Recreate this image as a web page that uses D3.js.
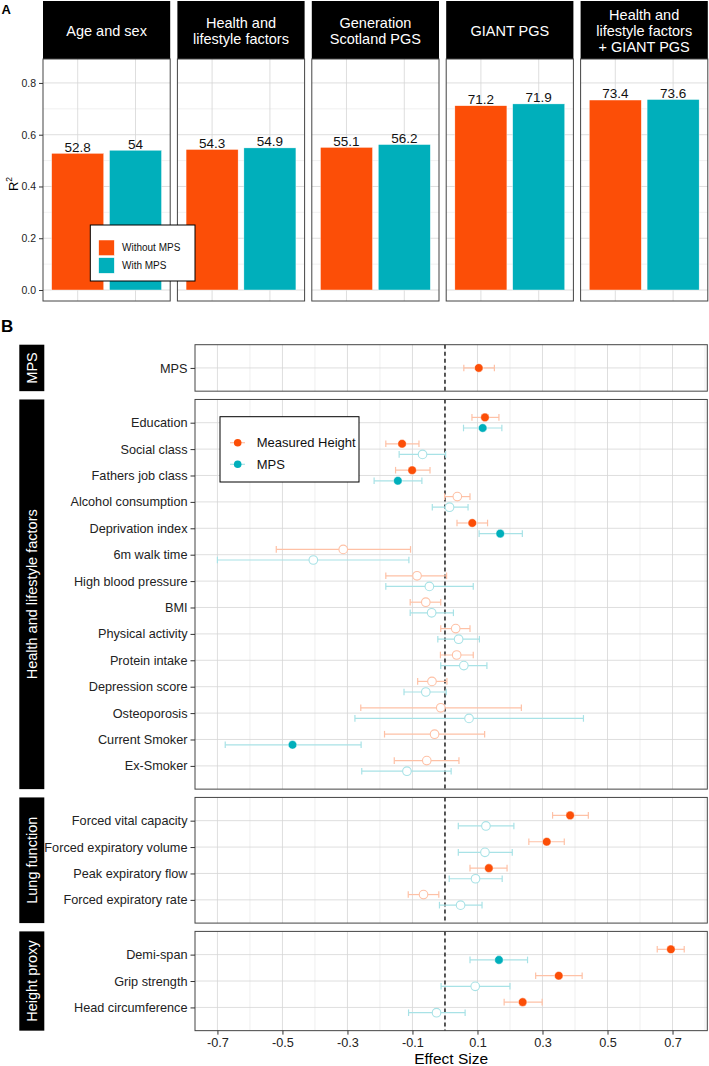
<!DOCTYPE html>
<html>
<head>
<meta charset="utf-8">
<script src="https://cdn.jsdelivr.net/npm/d3@7"></script>
<style>
  html, body { margin: 0; padding: 0; background: #fff; }
  svg { display: block; font-family: "Liberation Sans", Arial, Helvetica, sans-serif; }
</style>
</head>
<body>
<svg id="chart" width="709" height="1066"></svg>
<script>
// ---------------- Panel A data ----------------
const modelNames = [["Age and sex"], ["Health and", "lifestyle factors"], ["Generation", "Scotland PGS"], ["GIANT PGS"], ["Health and", "lifestyle factors", "+ GIANT PGS"]];
const barGroups = ["Without MPS", "With MPS"];
const withoutMPS = [52.8, 54.3, 55.1, 71.2, 73.4];
const withMPS = [54, 54.9, 56.2, 71.9, 73.6];
const yTicksA = [0, 0.2, 0.4, 0.6, 0.8];
const yMinorA = [0.1, 0.3, 0.5, 0.7];

// ---------------- Panel B data ----------------
const groupNames = ["MPS", "Health and lifestyle factors", "Lung function", "Height proxy"];
const traits = ["MPS", "Education", "Social class", "Fathers job class", "Alcohol consumption", "Deprivation index", "6m walk time", "High blood pressure", "BMI", "Physical activity", "Protein intake", "Depression score", "Osteoporosis", "Current Smoker", "Ex-Smoker", "Forced vital capacity", "Forced expiratory volume", "Peak expiratory flow", "Forced expiratory rate", "Demi-span", "Grip strength", "Head circumference"];
const traitGroup = ["MPS", "Health and lifestyle factors", "Health and lifestyle factors", "Health and lifestyle factors", "Health and lifestyle factors", "Health and lifestyle factors", "Health and lifestyle factors", "Health and lifestyle factors", "Health and lifestyle factors", "Health and lifestyle factors", "Health and lifestyle factors", "Health and lifestyle factors", "Health and lifestyle factors", "Health and lifestyle factors", "Health and lifestyle factors", "Lung function", "Lung function", "Lung function", "Lung function", "Height proxy", "Height proxy", "Height proxy"];
const heightEst = [0.104, 0.123, -0.132, -0.101, 0.038, 0.084, -0.313, -0.086, -0.059, 0.033, 0.036, -0.040, -0.013, -0.032, -0.056, 0.385, 0.313, 0.135, -0.066, 0.695, 0.350, 0.239];
const heightLo  = [0.058, 0.083, -0.182, -0.152, -0.001, 0.037, -0.519, -0.182, -0.107, -0.013, -0.014, -0.084, -0.259, -0.186, -0.156, 0.331, 0.258, 0.077, -0.113, 0.653, 0.279, 0.182];
const heightHi  = [0.152, 0.166, -0.080, -0.046, 0.077, 0.131, -0.106, 0.005, -0.013, 0.077, 0.087, 0.006, 0.235, 0.122, 0.043, 0.441, 0.367, 0.191, -0.019, 0.736, 0.422, 0.299];
const heightSig = [1, 1, 1, 1, 0, 1, 0, 0, 0, 0, 0, 0, 0, 0, 0, 1, 1, 1, 0, 1, 1, 1];
const mpsEst = [null, 0.116, -0.069, -0.145, 0.014, 0.170, -0.405, -0.048, -0.041, 0.042, 0.058, -0.059, 0.074, -0.469, -0.117, 0.126, 0.123, 0.094, 0.048, 0.166, 0.093, -0.026];
const mpsLo  = [null, 0.057, -0.141, -0.218, -0.039, 0.105, -0.700, -0.182, -0.107, -0.022, -0.013, -0.126, -0.277, -0.676, -0.256, 0.041, 0.041, 0.013, -0.017, 0.077, -0.012, -0.112];
const mpsHi  = [null, 0.175, 0.002, -0.071, 0.071, 0.238, -0.111, 0.087, 0.026, 0.106, 0.129, 0.004, 0.426, -0.258, 0.019, 0.212, 0.207, 0.176, 0.114, 0.254, 0.200, 0.062];
const mpsSig = [null, 1, 0, 1, 0, 1, 0, 0, 0, 0, 0, 0, 0, 1, 0, 0, 0, 0, 0, 1, 0, 0];
const seriesNames = ["Measured Height", "MPS"];
const xTicksB = [-0.7, -0.5, -0.3, -0.1, 0.1, 0.3, 0.5, 0.7];
const xMinorB = [-0.6, -0.4, -0.2, 0, 0.2, 0.4, 0.6, 0.8];

// ---------------- styling ----------------
const ORANGE = "#FC4E07", TEAL = "#00AFBB";
const ORANGE_L = "#FEC1A6", TEAL_L = "#A8E2E6";
const GRID = "#d6d6d6", GRID_MINOR = "#ebebeb", BORDER = "#444";
const TXT = "#222";

const svg = d3.select("#chart");

// ======================= PANEL A =======================
const A = { left: 43, panelW: 127.2, gap: 7.2, stripTop: 1, stripBot: 59, top: 59, bottom: 301 };
const yA = d3.scaleLinear().domain([-0.0425, 0.8925]).range([A.bottom, A.top]);
const bandA = d3.scaleBand().domain(barGroups).range([0, A.panelW]).paddingInner(0.1).paddingOuter(0.15);

svg.append("text").attr("x", 1.5).attr("y", 13.5).attr("font-size", 13).attr("font-weight", "bold").attr("fill", "#000").text("A");

modelNames.forEach((lines, i) => {
  const x0 = A.left + i * (A.panelW + A.gap);
  const g = svg.append("g").attr("transform", `translate(${x0},0)`);
  // strip
  g.append("rect").attr("x", 0).attr("y", A.stripTop).attr("width", A.panelW).attr("height", A.stripBot - A.stripTop).attr("fill", "#000");
  const lh = 16.2, cy = (A.stripTop + A.stripBot) / 2 + 0.5;
  lines.forEach((ln, k) => {
    g.append("text").attr("x", A.panelW / 2).attr("y", cy + (k - (lines.length - 1) / 2) * lh)
      .attr("dy", "0.36em").attr("text-anchor", "middle").attr("font-size", 14.5).attr("fill", "#fff").text(ln);
  });
  // grid
  yMinorA.forEach(t => g.append("line").attr("x1", 0).attr("x2", A.panelW).attr("y1", yA(t)).attr("y2", yA(t)).attr("stroke", GRID_MINOR).attr("stroke-width", 0.7));
  yTicksA.forEach(t => g.append("line").attr("x1", 0).attr("x2", A.panelW).attr("y1", yA(t)).attr("y2", yA(t)).attr("stroke", GRID).attr("stroke-width", 0.8));
  barGroups.forEach(b => {
    const cx = bandA(b) + bandA.bandwidth() / 2;
    g.append("line").attr("x1", cx).attr("x2", cx).attr("y1", A.top).attr("y2", A.bottom).attr("stroke", GRID).attr("stroke-width", 0.8);
  });
  // bars
  const vals = [withoutMPS[i], withMPS[i]];
  barGroups.forEach((b, j) => {
    const v = vals[j] / 100;
    g.append("rect").attr("x", bandA(b)).attr("width", bandA.bandwidth())
      .attr("y", yA(v)).attr("height", yA(0) - yA(v))
      .attr("fill", j === 0 ? ORANGE : TEAL).attr("stroke", "#fff").attr("stroke-width", 0.4);
    g.append("text").attr("x", bandA(b) + bandA.bandwidth() / 2).attr("y", yA(v) - 1.6)
      .attr("text-anchor", "middle").attr("font-size", 13.5).attr("fill", "#111").text(vals[j]);
  });
  // border
  g.append("rect").attr("x", 0).attr("y", A.top).attr("width", A.panelW).attr("height", A.bottom - A.top)
    .attr("fill", "none").attr("stroke", BORDER).attr("stroke-width", 1);
});

// y axis A
const yAxisA = d3.axisLeft(yA).tickValues(yTicksA).tickFormat(d3.format(".1f")).tickSize(4).tickPadding(3);
const gyA = svg.append("g").attr("transform", `translate(${A.left},0)`).call(yAxisA);
gyA.select(".domain").remove();
gyA.selectAll(".tick line").attr("stroke", "#333");
gyA.selectAll(".tick text").attr("font-size", 10.5).attr("fill", TXT).attr("font-family", "Liberation Sans, Arial, sans-serif");
const rlab = svg.append("text").attr("transform", `translate(18,${(A.top + A.bottom) / 2 + 4}) rotate(-90)`)
  .attr("text-anchor", "middle").attr("font-size", 13).attr("fill", "#000");
rlab.append("tspan").text("R");
rlab.append("tspan").attr("font-size", 8.5).attr("dy", -6).text("2");

// legend A
const legA = svg.append("g").attr("transform", "translate(90.3,225)");
legA.append("rect").attr("width", 104.7).attr("height", 56).attr("fill", "#fff").attr("stroke", "#000").attr("stroke-width", 1);
barGroups.forEach((b, j) => {
  legA.append("rect").attr("x", 8.4).attr("y", 15 + j * 17.7).attr("width", 15.6).attr("height", 15.6)
    .attr("fill", j === 0 ? ORANGE : TEAL).attr("stroke", "#fff").attr("stroke-width", 0.5);
  legA.append("text").attr("x", 31.7).attr("y", 15 + j * 17.7 + 7.8).attr("dy", "0.36em")
    .attr("font-size", 10).attr("fill", "#111").text(b);
});

// ======================= PANEL B =======================
svg.append("text").attr("x", 1).attr("y", 332).attr("font-size", 17).attr("font-weight", "bold").attr("fill", "#000").text("B");

const B = { left: 195, right: 707.3, top: 344.7, gap: 8.3, step: 26.4, pad: 0.88, stripL: 19.3, stripR: 44.3 };
const xB = d3.scaleLinear().domain([-0.769, 0.807]).range([B.left, B.right]);
const dodge = 5.3;

let yCursor = B.top;
let lastBottom = 0;
groupNames.forEach((grp) => {
  const idx = traits.map((t, i) => i).filter(i => traitGroup[i] === grp);
  const n = idx.length;
  const h = (n - 1 + 2 * B.pad) * B.step;
  const top = yCursor, bot = yCursor + h;
  const yS = d3.scalePoint().domain(idx.map(i => traits[i])).range([top, bot]).padding(B.pad);
  const g = svg.append("g");

  // strip
  g.append("rect").attr("x", B.stripL).attr("y", top).attr("width", B.stripR - B.stripL).attr("height", h).attr("fill", "#000");
  g.append("text").attr("transform", `translate(${(B.stripL + B.stripR) / 2 + 0.3},${(top + bot) / 2}) rotate(-90)`)
    .attr("dy", "0.36em").attr("text-anchor", "middle").attr("font-size", 14.5).attr("fill", "#fff").text(grp);

  // grid
  xMinorB.forEach(t => g.append("line").attr("x1", xB(t)).attr("x2", xB(t)).attr("y1", top).attr("y2", bot).attr("stroke", GRID_MINOR).attr("stroke-width", 0.8));
  xTicksB.forEach(t => g.append("line").attr("x1", xB(t)).attr("x2", xB(t)).attr("y1", top).attr("y2", bot).attr("stroke", GRID).attr("stroke-width", 0.8));
  idx.forEach(i => g.append("line").attr("x1", B.left).attr("x2", B.right).attr("y1", yS(traits[i])).attr("y2", yS(traits[i])).attr("stroke", GRID).attr("stroke-width", 0.8));

  // zero line
  g.append("line").attr("x1", xB(0)).attr("x2", xB(0)).attr("y1", top).attr("y2", bot)
    .attr("stroke", "#000").attr("stroke-width", 1.3).attr("stroke-dasharray", "4,3");

  // points
  idx.forEach(i => {
    const yc = yS(traits[i]);
    const hasMps = mpsEst[i] !== null;
    const series = [
      { est: heightEst[i], lo: heightLo[i], hi: heightHi[i], sig: heightSig[i], col: ORANGE, light: ORANGE_L, y: hasMps ? yc - dodge : yc },
    ];
    if (hasMps) series.push({ est: mpsEst[i], lo: mpsLo[i], hi: mpsHi[i], sig: mpsSig[i], col: TEAL, light: TEAL_L, y: yc + dodge });
    series.forEach(s => {
      g.append("line").attr("x1", xB(s.lo)).attr("x2", xB(s.hi)).attr("y1", s.y).attr("y2", s.y).attr("stroke", s.light).attr("stroke-width", 1.2);
      [s.lo, s.hi].forEach(v => g.append("line").attr("x1", xB(v)).attr("x2", xB(v)).attr("y1", s.y - 3.3).attr("y2", s.y + 3.3).attr("stroke", s.light).attr("stroke-width", 1.2));
      if (s.sig) {
        g.append("circle").attr("cx", xB(s.est)).attr("cy", s.y).attr("r", 4.3).attr("fill", s.col).attr("stroke", "#fff").attr("stroke-width", 0.5);
      } else {
        g.append("circle").attr("cx", xB(s.est)).attr("cy", s.y).attr("r", 4.3).attr("fill", "#fff").attr("stroke", s.light).attr("stroke-width", 1.1);
      }
    });
  });

  // border
  g.append("rect").attr("x", B.left).attr("y", top).attr("width", B.right - B.left).attr("height", h)
    .attr("fill", "none").attr("stroke", BORDER).attr("stroke-width", 1);

  // y axis
  const ax = d3.axisLeft(yS).tickSize(4.5).tickPadding(3);
  const gy = svg.append("g").attr("transform", `translate(${B.left},0)`).call(ax);
  gy.select(".domain").remove();
  gy.selectAll(".tick line").attr("stroke", "#333");
  gy.selectAll(".tick text").attr("font-size", 12.7).attr("fill", TXT).attr("font-family", "Liberation Sans, Arial, sans-serif");

  yCursor = bot + B.gap;
  lastBottom = bot;
});

// x axis B
const xAxisB = d3.axisBottom(xB).tickValues(xTicksB).tickFormat(d3.format(".1f")).tickSize(4).tickPadding(3.5);
const gxB = svg.append("g").attr("transform", `translate(0,${lastBottom})`).call(xAxisB);
gxB.select(".domain").remove();
gxB.selectAll(".tick line").attr("stroke", "#333");
gxB.selectAll(".tick text").attr("font-size", 12.7).attr("fill", TXT).attr("font-family", "Liberation Sans, Arial, sans-serif")
  .text(d => d3.format(".1f")(d).replace("−", "-"));
svg.append("text").attr("x", (B.left + B.right) / 2).attr("y", 1063.5).attr("text-anchor", "middle")
  .attr("font-size", 15.5).attr("fill", "#000").text("Effect Size");

// legend B
const legB = svg.append("g").attr("transform", "translate(220,416.7)");
legB.append("rect").attr("width", 139).attr("height", 65.3).attr("fill", "#fff").attr("stroke", "#000").attr("stroke-width", 1);
seriesNames.forEach((s, j) => {
  const yy = 26 + j * 21.6;
  const col = j === 0 ? ORANGE : TEAL, light = j === 0 ? ORANGE_L : TEAL_L;
  legB.append("line").attr("x1", 10).attr("x2", 25).attr("y1", yy).attr("y2", yy).attr("stroke", light).attr("stroke-width", 1.2);
  legB.append("circle").attr("cx", 17.7).attr("cy", yy).attr("r", 3.8).attr("fill", col);
  legB.append("text").attr("x", 36.7).attr("y", yy).attr("dy", "0.36em").attr("font-size", 13).attr("fill", "#111").text(s);
});
</script>
</body>
</html>
